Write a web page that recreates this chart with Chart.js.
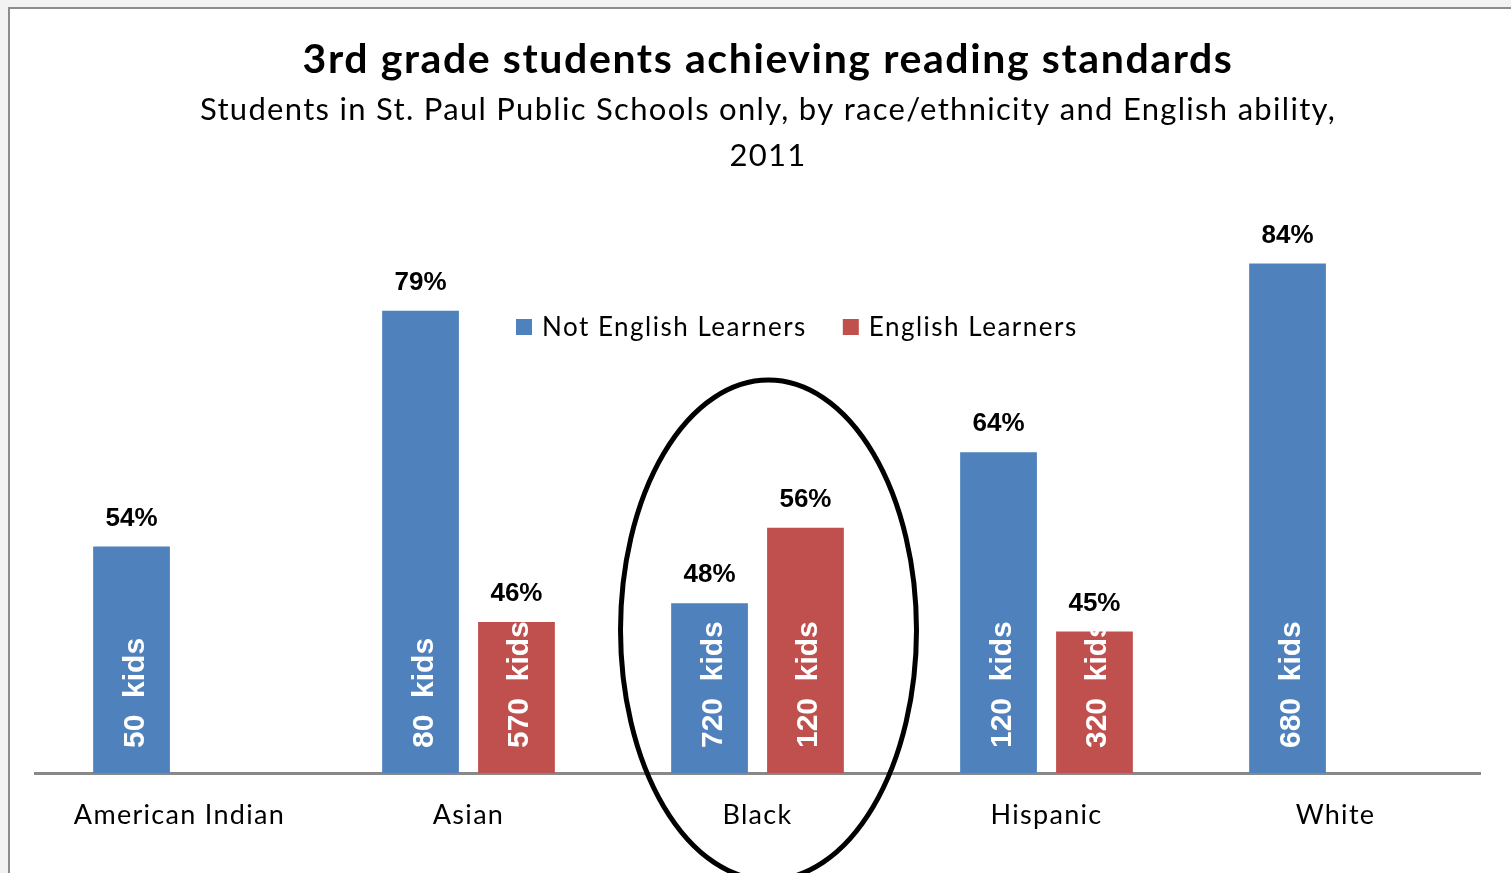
<!DOCTYPE html>
<html>
<head>
<meta charset="utf-8">
<title>3rd grade students achieving reading standards</title>
<script src="https://cdn.jsdelivr.net/npm/chart.js@4.4.1/dist/chart.umd.min.js"></script>
<style>
    html, body { margin: 0; padding: 0; width: 1511px; height: 873px; overflow: hidden; background: #f2f2f2; }
    #frame {
        position: absolute; left: 8px; top: 7px; width: 1600px; height: 1000px;
        background: #ffffff; border-left: 2px solid #8c8c8c; border-top: 2px solid #8c8c8c;
    }
    #wrap { position: absolute; left: 0; top: 0; width: 1511px; height: 873px; }
</style>
</head>
<body>
<div id="frame"></div>
<div id="wrap"><canvas id="readingChart" width="1511" height="873"></canvas></div>
<script>
// Data
const categories = ['American Indian', 'Asian', 'Black', 'Hispanic', 'White'];
const notELPercent = [54, 79, 48, 64, 84];
const elPercent = [null, 46, 56, 45, null];
const notELKids = [50, 80, 720, 120, 680];
const elKids = [null, 570, 120, 320, null];
const seriesNames = ['Not English Learners', 'English Learners'];

const titleText = '3rd grade students achieving reading standards';
const subtitleLines = ['Students in St. Paul Public Schools only, by race/ethnicity and English ability,', '2011'];

const BLUE = '#4F81BD';
const RED = '#C0504D';
const SANS = 'Lato, "Open Sans", sans-serif';
const ARIAL = '"Liberation Sans", Arial, sans-serif';

// Title + subtitle drawn on the canvas
const headerPlugin = {
    id: 'header',
    beforeDraw(chart) {
        // wider spacing for the category labels, like the original
        chart.ctx.letterSpacing = '1.3px';
    },
    afterDraw(chart) {
        const ctx = chart.ctx;
        ctx.save();
        ctx.fillStyle = '#000';
        ctx.textAlign = 'center';
        ctx.textBaseline = 'alphabetic';
        ctx.letterSpacing = '1.6px';
        ctx.font = 'bold 41px ' + SANS;
        ctx.fillText(titleText, 768, 73);
        ctx.letterSpacing = '1.3px';
        ctx.font = '31px ' + SANS;
        ctx.fillText(subtitleLines[0], 768, 120);
        ctx.fillText(subtitleLines[1], 768, 166);
        ctx.restore();
        ctx.letterSpacing = '0px';
    }
};

// Legend placed inside the plot, like the original
const legendPlugin = {
    id: 'innerLegend',
    afterDraw(chart) {
        const ctx = chart.ctx;
        ctx.save();
        ctx.font = '26px ' + SANS;
        ctx.letterSpacing = '1.5px';
        ctx.textBaseline = 'middle';
        ctx.textAlign = 'left';
        let x = 516;
        const y = 327;
        chart.data.datasets.forEach(ds => {
            ctx.fillStyle = ds.backgroundColor;
            ctx.fillRect(x, y - 8, 16, 16);
            x += 26;
            ctx.fillStyle = '#000';
            ctx.fillText(ds.label, x, y + 1);
            x += ctx.measureText(ds.label).width + 36;
        });
        ctx.restore();
    }
};

// Percent labels above bars, kid counts rotated inside bars
const barLabelPlugin = {
    id: 'barLabels',
    afterDatasetsDraw(chart) {
        const ctx = chart.ctx;
        const base = chart.chartArea.bottom;
        const kids = [notELKids, elKids];
        chart.data.datasets.forEach((ds, di) => {
            chart.getDatasetMeta(di).data.forEach((bar, i) => {
                const v = ds.data[i];
                if (v === null || v === undefined) return;
                ctx.save();
                ctx.letterSpacing = '0px';
                ctx.fillStyle = '#000';
                ctx.font = 'bold 26px ' + ARIAL;
                ctx.textAlign = 'center';
                ctx.textBaseline = 'alphabetic';
                ctx.fillText(v + '%', bar.x, bar.y - 21);

                ctx.translate(bar.x + 12, base - 25);
                ctx.rotate(-Math.PI / 2);
                ctx.fillStyle = '#fff';
                ctx.font = 'bold 30px ' + ARIAL;
                ctx.textAlign = 'left';
                ctx.fillText(kids[di][i] + '  kids', 0, 0);
                ctx.restore();
            });
        });
    }
};

// Hand-drawn emphasis ring around the Black group
const ringPlugin = {
    id: 'ring',
    afterDatasetsDraw(chart) {
        const ctx = chart.ctx;
        const xs = chart.scales.x;
        const cx = xs.getPixelForValue(2) + 11;
        ctx.save();
        ctx.strokeStyle = '#000';
        ctx.lineWidth = 5;
        ctx.beginPath();
        ctx.ellipse(cx, 630, 148, 250, 0, 0, Math.PI * 2);
        ctx.stroke();
        ctx.restore();
    }
};

new Chart(document.getElementById('readingChart'), {
    type: 'bar',
    data: {
        labels: categories,
        datasets: [{
            label: seriesNames[0],
            data: notELPercent,
            backgroundColor: BLUE,
            categoryPercentage: 0.664,
            barPercentage: 0.8
        }, {
            label: seriesNames[1],
            data: elPercent,
            backgroundColor: RED,
            categoryPercentage: 0.664,
            barPercentage: 0.8
        }]
    },
    options: {
        responsive: false,
        animation: false,
        layout: { padding: { left: 35, right: 31, top: 207, bottom: 0 } },
        plugins: {
            legend: { display: false },
            tooltip: { enabled: false }
        },
        scales: {
            x: {
                grid: { drawOnChartArea: false, drawTicks: false },
                border: { color: '#888888', width: 3 },
                ticks: {
                    color: '#000',
                    padding: 26,
                    font: { family: SANS, size: 27 },
                    maxRotation: 0
                },
                afterFit(scale) { scale.height = 100; }
            },
            y: {
                display: false,
                min: 30,
                max: 90
            }
        }
    },
    plugins: [headerPlugin, legendPlugin, barLabelPlugin, ringPlugin]
});
</script>
</body>
</html>
